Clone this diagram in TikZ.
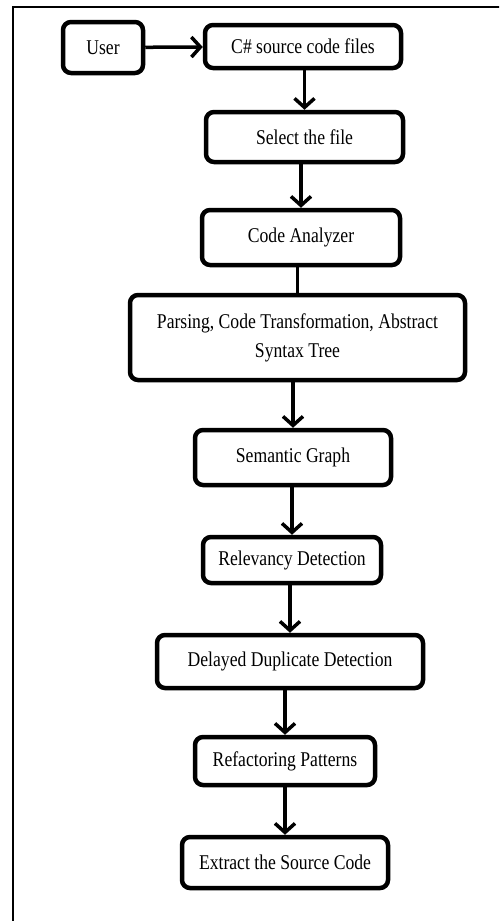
\documentclass[tikz,border=0pt]{standalone}
\usepackage{fontspec}
\setmainfont[FakeStretch=0.84]{Liberation Serif}
\usetikzlibrary{arrows.meta}
\tikzset{
  blk/.style={draw, line width=4.5pt, rounded corners=8pt, align=center,
    inner sep=2pt, font=\fontsize{21}{29}\selectfont},
  flow/.style={line width=3.5pt,
    -{Straight Barb[length=9pt,width=20pt,line width=3.5pt]}}
}
\begin{document}
\begin{tikzpicture}[x=1pt,y=-1pt]
      \useasboundingbox (0,0) rectangle (499,921);
      \clip (0,0) rectangle (499,921);
      \draw[line width=2pt] (13,7) rectangle (530,950);
      \node[blk, minimum width=80pt, minimum height=51pt] (user) at (103,47.5) {User};
      \node[blk, minimum width=196pt, minimum height=43pt] (src) at (303,46.5) {C\# source code files};
      \node[blk, minimum width=197pt, minimum height=50pt] (select) at (304.5,137) {Select the file};
      \node[blk, minimum width=198pt, minimum height=55pt] (analyzer) at (301,237.5) {Code Analyzer};
      \node[blk, minimum width=335pt, minimum height=85pt] (parse) at (297.5,337.5)
        {Parsing, Code Transformation, Abstract\\Syntax Tree};
      \node[blk, minimum width=196pt, minimum height=55pt] (semantic) at (293,457.5) {Semantic Graph};
      \node[blk, minimum width=178pt, minimum height=46pt] (relevancy) at (292,560) {Relevancy Detection};
      \node[blk, minimum width=266pt, minimum height=53pt] (delayed) at (290,661.5) {Delayed Duplicate Detection};
      \node[blk, minimum width=180pt, minimum height=48pt] (refactor) at (285,761) {Refactoring Patterns};
      \node[blk, minimum width=206pt, minimum height=51pt] (extract) at (285,862.5) {Extract the Source Code};
      \begin{scope}[flow]
        \draw (user) to (src);
        \draw (select.north |- src.south) to (select.north);
        \draw (analyzer.north |- select.south) to (analyzer.north);
        \draw[-] (parse.north |- analyzer.south) to (parse.north);
        \draw (semantic.north |- parse.south) to (semantic.north);
        \draw (relevancy.north |- semantic.south) to (relevancy.north);
        \draw (delayed.north |- relevancy.south) to (delayed.north);
        \draw (refactor.north |- delayed.south) to (refactor.north);
        \draw (extract.north |- refactor.south) to (extract.north);
      \end{scope}
    \end{tikzpicture}
\end{document}
